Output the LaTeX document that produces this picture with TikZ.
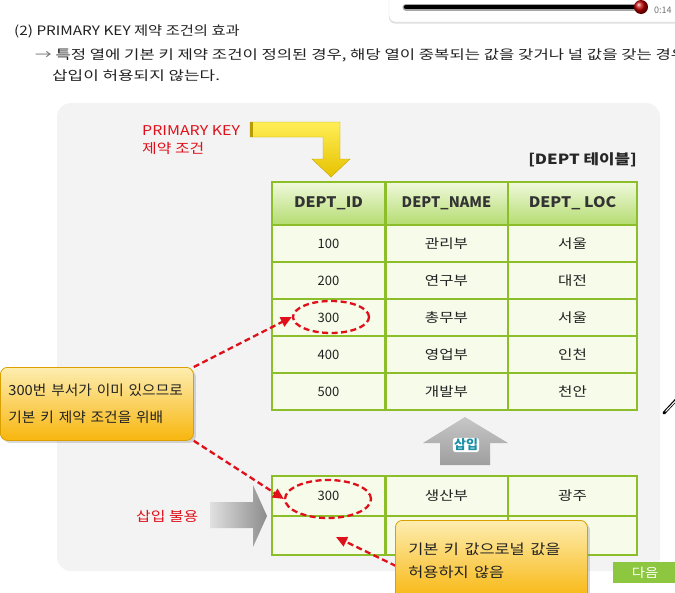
\documentclass[tikz,border=0pt]{standalone}
\usepackage{fontspec}
\usepackage{graphicx}
\setmainfont{Noto Sans CJK KR}
\usetikzlibrary{shapes.geometric,arrows.meta,shadows,calc}
\definecolor{panel}{HTML}{F3F3F3}
\definecolor{tgreen}{HTML}{8CBE2A}
\definecolor{cellfill}{HTML}{F6FBEA}
\definecolor{hdtop}{HTML}{F0F9DC}
\definecolor{hdbot}{HTML}{B4DC70}
\definecolor{cotop}{HTML}{FDEDB0}
\definecolor{cobot}{HTML}{F8B60E}
\definecolor{coedge}{HTML}{D9A000}
\definecolor{kred}{HTML}{E0101A}
\definecolor{ytop}{HTML}{FFEE55}
\definecolor{ybot}{HTML}{E6C200}
\definecolor{btngreen}{HTML}{8DC63F}
\definecolor{txt}{HTML}{222222}
\definecolor{teal}{HTML}{1C8FA6}
\newcommand\widen[2]{\scalebox{#1}[1]{#2}}
\tikzset{
  cell/.style={draw=tgreen, line width=1.1pt, fill=cellfill, inner sep=0pt,
    font=\fontsize{13}{14}\selectfont, text=txt},
  hcell/.style={cell, top color=hdtop, bottom color=hdbot,
    font=\fontsize{14.5}{15}\selectfont\bfseries, text=black!80},
  callout/.style={draw=coedge, line width=0.8pt, rounded corners=7pt,
    top color=cotop, bottom color=cobot, inner ysep=0pt, inner xsep=8pt,
    align=left, text=txt,
    drop shadow={shadow xshift=2.5pt, shadow yshift=-2.5pt, opacity=0.3}},
  dashring/.style={ellipse, draw=kred, line width=2.3pt, dash pattern=on 6pt off 3.5pt, inner sep=0pt},
  dashline/.style={draw=kred, line width=2.3pt, dash pattern=on 6pt off 3.5pt,
    -{Triangle[length=11pt,width=10pt]}},
  plain/.style={inner sep=0pt, text=txt, font=\fontsize{13}{15}\selectfont}
}
\begin{document}
\begin{tikzpicture}[x=1pt,y=-1pt]
\useasboundingbox (0,0) rectangle (675,592);
\fill[white] (0,0) rectangle (675,592);

% player bar
\fill[white, draw=black!15, drop shadow={shadow xshift=0pt, shadow yshift=-1.5pt, opacity=0.25}, rounded corners=6pt]
  (389,-10) rectangle (690,22);
\draw[line width=7pt, line cap=round, black!35] (406,7) -- (636,7);
\draw[line width=4.5pt, line cap=round, black] (406,7) -- (636,7);
\shade[ball color=red!75!black] (641,7) circle (7);
\node[anchor=west, inner sep=0pt, font=\fontsize{9}{10}\selectfont, text=black!55] (time) at (654,10) {0:14};

% heading text
\node[plain, anchor=west] (t1) at (14,31) {\widen{1.18}{(2) PRIMARY KEY 제약 조건의 효과}};
\node[plain, anchor=west] (t2) at (35,55) {\widen{1.28}{\textcolor{black!55}{→} 특정 열에 기본 키 제약 조건이 정의된 경우, 해당 열이 중복되는 값을 갖거나 널 값을 갖는 경우}};
\node[plain, anchor=west] (t3) at (52,76) {\widen{1.3}{삽입이 허용되지 않는다.}};

% panel
\fill[panel, rounded corners=14pt] (57,103) rectangle (660,571);

% pencil
\draw[line width=3pt, line cap=round, black] (664,413) -- (676,400);
\draw[line width=1pt, white] (665.5,411.5) -- (676,400.5);

% PRIMARY KEY label + yellow arrow
\node[anchor=west, align=left, inner sep=0pt, font=\fontsize{13.5}{18}\selectfont, text=kred] (pk) at (142,140) {\widen{1.18}{PRIMARY KEY}\\\widen{1.18}{제약 조건}};
\shade[top color=ytop, bottom color=ybot, draw=ybot!85!black, line width=0.4pt]
  (250,122) -- (340,122) -- (340,159) -- (350,159) -- (331,177) -- (312,159) -- (323,159) -- (323,137) -- (250,137) -- cycle;
\fill[ybot!80!black] (250,122) rectangle (253,137);

\node[anchor=east, inner sep=0pt, font=\fontsize{14}{15}\selectfont\bfseries, text=black!85] (tbl) at (637,160) {\widen{1.2}{[DEPT 테이블]}};

% table header
\node[hcell, minimum width=113, minimum height=43] (h1) at (328.5,203.5) {\widen{1.1}{DEPT\_ID}};
\node[hcell, minimum width=123, minimum height=43] (h2) at (446.5,203.5) {\widen{1.0}{DEPT\_NAME}};
\node[hcell, minimum width=129, minimum height=43] (h3) at (572.5,203.5) {\widen{1.1}{DEPT\_ LOC}};

% table rows
\foreach \r/\y/\a/\b/\c in {1/243.5/100/관리부/서울, 2/280.5/200/연구부/대전, 3/317.5/300/총무부/서울, 4/354.5/400/영업부/인천, 5/391.5/500/개발부/천안}{
  \node[cell, minimum width=113, minimum height=37] (r\r-1) at (328.5,\y) {\a};
  \node[cell, minimum width=123, minimum height=37] (r\r-2) at (446.5,\y) {\widen{1.2}{\b}};
  \node[cell, minimum width=129, minimum height=37] (r\r-3) at (572.5,\y) {\widen{1.2}{\c}};
}
\draw[tgreen, line width=2pt] (h1.north east) -- (r5-1.south east);

% insert arrow (up)
\shade[top color=black!22, bottom color=black!38]
  (465,417) -- (508,443) -- (490,443) -- (490,465) -- (440,465) -- (440,443) -- (423,443) -- cycle;
\node[inner sep=1.2pt, fill=white, rounded corners=3pt, font=\fontsize{13}{14}\selectfont\bfseries, text=teal] (ins) at (466,445) {삽입};

% bottom rows
\node[cell, minimum width=113, minimum height=40] (b1-1) at (328.5,496) {300};
\node[cell, minimum width=123, minimum height=40] (b1-2) at (446.5,496) {\widen{1.2}{생산부}};
\node[cell, minimum width=129, minimum height=40] (b1-3) at (572.5,496) {\widen{1.2}{광주}};
\node[cell, minimum width=113, minimum height=39] (b2-1) at (328.5,535.5) {};
\node[cell, minimum width=123, minimum height=39] (b2-2) at (446.5,535.5) {};
\node[cell, minimum width=129, minimum height=39] (b2-3) at (572.5,535.5) {};
\draw[tgreen, line width=2pt] (b1-1.north east) -- (b2-1.south east);

% rejected insert arrow (right)
\shade[left color=black!12, right color=black!45]
  (210,502) -- (253,502) -- (253,485) -- (267,516) -- (253,547) -- (253,528) -- (210,528) -- cycle;
\node[anchor=west, inner sep=0pt, font=\fontsize{13.5}{15}\selectfont, text=kred] (rej) at (136,516) {\widen{1.18}{삽입 불용}};

% ellipses
\node[dashring, minimum width=76, minimum height=32] (e1) at (331,317) {};
\node[dashring, minimum width=86, minimum height=38] (e2) at (328,499) {};

% callouts
\node[callout, anchor=north west, minimum width=193, minimum height=73, text width=177,
  font=\fontsize{14}{27}\selectfont] (co1) at (0,367) {\widen{1.05}{300번 부서가 이미 있으므로}\\\widen{1.05}{기본 키 제약 조건을 위배}};
\coordinate (co2in) at (396,566);
\coordinate (nulltip) at (336,537);
\draw[dashline] (co1.north east) -- (e1.west);
\draw[dashline] (co1.south east) -- (e2.west);
\draw[dashline] (co2in) -- (nulltip);
\node[callout, anchor=north west, minimum width=192, minimum height=80, text width=166, inner xsep=13pt,
  font=\fontsize{14}{23}\selectfont] (co2) at (395,520) {\widen{1.17}{기본 키 값으로널 값을}\\\widen{1.17}{허용하지 않음}};

% next button
\node[fill=btngreen, minimum width=70, minimum height=21, inner sep=0pt, anchor=north west,
  font=\fontsize{12.5}{14}\selectfont, text=white] (next) at (613,562) {\hspace*{-6pt}\widen{1.15}{다음}};
\end{tikzpicture}
\end{document}
